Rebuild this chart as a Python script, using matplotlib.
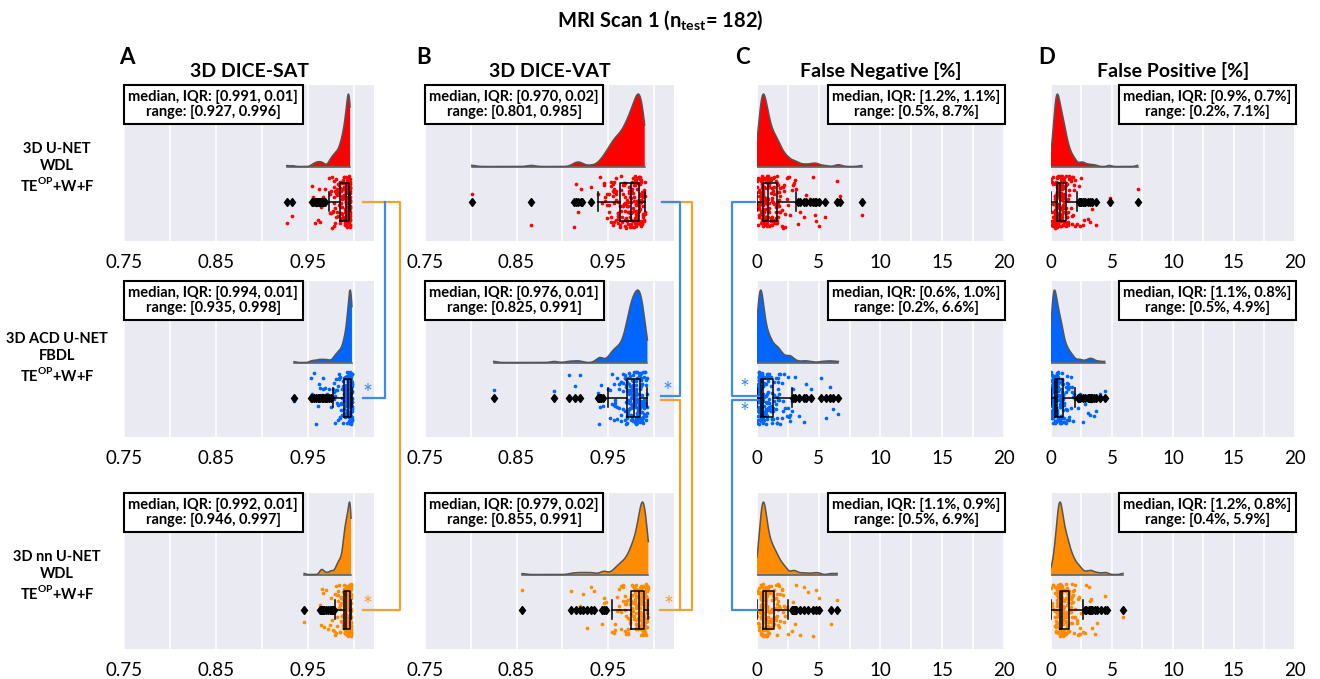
import numpy as np
import matplotlib
matplotlib.use("Agg")
import matplotlib.pyplot as plt
from matplotlib.offsetbox import AnchoredText
from matplotlib.lines import Line2D

plt.rcParams['font.family'] = ['Lato', 'DejaVu Sans']
plt.rcParams['mathtext.fontset'] = 'custom'
plt.rcParams['mathtext.rm'] = 'Lato'
plt.rcParams['mathtext.bf'] = 'Lato:bold'

W, H = 1320, 679

MODELS = ["3D U-NET\nWDL\nTE$^{\\mathbf{OP}}$+W+F",
          "3D ACD U-NET\nFBDL\nTE$^{\\mathbf{OP}}$+W+F",
          "3D nn U-NET\nWDL\nTE$^{\\mathbf{OP}}$+W+F"]
METRICS = ["3D DICE-SAT", "3D DICE-VAT", "False Negative [%]", "False Positive [%]"]
LETTERS = ["A", "B", "C", "D"]
COLORS = ["#ff0000", "#0066ff", "#ff8c00"]

SAT_UNET_VALS = [0.927, 0.933, 0.955, 0.956, 0.958, 0.959, 0.960, 0.961, 0.962, 0.963, 0.964, 0.965, 0.966,
                 0.967, 0.969, 0.973, 0.974, 0.975, 0.976, 0.977, 0.978, 0.979, 0.980, 0.981, 0.982, 0.983,
                 0.984, 0.985, 0.986, 0.987, 0.988, 0.989, 0.990, 0.991, 0.992, 0.993, 0.994, 0.995, 0.996]
SAT_UNET_CNTS = [1, 1, 1, 1, 1, 1, 1, 1, 1, 1, 1, 1, 1,
                 1, 1, 1, 2, 2, 2, 2, 2, 3, 3, 3, 3, 3,
                 4, 4, 5, 6, 7, 7, 8, 10, 11, 13, 15, 28, 23]

SAT_ACD_VALS = [0.935, 0.953, 0.955, 0.957, 0.959, 0.961, 0.962, 0.963, 0.965, 0.966, 0.967, 0.969, 0.970,
                0.971, 0.973, 0.975, 0.977, 0.978, 0.979, 0.980, 0.981, 0.982, 0.983, 0.984, 0.985, 0.986,
                0.987, 0.988, 0.989, 0.990, 0.991, 0.992, 0.993, 0.994, 0.995, 0.996, 0.997, 0.998]
SAT_ACD_CNTS = [1, 1, 1, 1, 1, 1, 1, 1, 1, 1, 1, 1, 1,
                1, 1, 1, 1, 1, 2, 2, 2, 2, 3, 3, 3, 3,
                3, 4, 6, 6, 7, 8, 9, 11, 20, 22, 26, 22]

SAT_NN_VALS = [0.946, 0.963, 0.964, 0.965, 0.966, 0.967, 0.968, 0.970, 0.972, 0.974, 0.975, 0.976, 0.977,
               0.978, 0.980, 0.981, 0.982, 0.983, 0.984, 0.985, 0.986, 0.987, 0.988, 0.989, 0.990, 0.991,
               0.992, 0.993, 0.994, 0.995, 0.996, 0.997]
SAT_NN_CNTS = [1, 1, 1, 2, 1, 1, 1, 1, 1, 1, 1, 1, 1,
               1, 2, 2, 3, 3, 3, 4, 4, 4, 5, 10, 11, 12,
               14, 13, 14, 16, 26, 21]

VAT_UNET_VALS = [0.801, 0.866, 0.913, 0.915, 0.917, 0.920, 0.921, 0.931, 0.939, 0.941, 0.943, 0.945, 0.947,
                 0.949, 0.951, 0.953, 0.955, 0.957, 0.959, 0.961, 0.963, 0.964, 0.965, 0.966, 0.967, 0.968,
                 0.969, 0.970, 0.971, 0.972, 0.973, 0.974, 0.975, 0.976, 0.977, 0.978, 0.979, 0.980, 0.981,
                 0.982, 0.983, 0.984, 0.985, 0.986, 0.987, 0.988, 0.989, 0.990]
VAT_UNET_CNTS = [1, 1, 1, 1, 1, 1, 1, 1, 1, 1, 1, 2, 2,
                 3, 3, 4, 4, 5, 5, 6, 3, 3, 3, 3, 3, 3,
                 4, 4, 4, 4, 4, 4, 5, 4, 5, 6, 6, 6, 6,
                 5, 5, 8, 8, 8, 7, 7, 5, 4]

VAT_ACD_VALS = [0.825, 0.891, 0.907, 0.914, 0.919, 0.939, 0.940, 0.941, 0.942, 0.944, 0.950, 0.952, 0.954,
                0.956, 0.958, 0.960, 0.962, 0.964, 0.966, 0.968, 0.970, 0.971, 0.972, 0.973, 0.974, 0.975,
                0.976, 0.977, 0.978, 0.979, 0.980, 0.981, 0.982, 0.983, 0.984, 0.985, 0.986, 0.987, 0.988,
                0.989, 0.990, 0.991, 0.992, 0.993]
VAT_ACD_CNTS = [1, 1, 1, 1, 1, 1, 1, 1, 1, 1, 1, 2, 2,
                3, 3, 3, 3, 4, 4, 5, 5, 5, 5, 5, 6, 6,
                6, 7, 7, 7, 7, 7, 7, 7, 8, 9, 8, 7, 6,
                5, 4, 4, 2, 2]

VAT_NN_VALS = [0.856, 0.910, 0.915, 0.919, 0.923, 0.927, 0.931, 0.935, 0.943, 0.945, 0.946, 0.948, 0.954,
               0.956, 0.958, 0.960, 0.962, 0.964, 0.966, 0.968, 0.970, 0.972, 0.974, 0.975, 0.976, 0.977,
               0.978, 0.979, 0.980, 0.981, 0.982, 0.983, 0.984, 0.985, 0.986, 0.987, 0.988, 0.989, 0.990,
               0.991, 0.992, 0.993, 0.994]
VAT_NN_CNTS = [1, 1, 1, 1, 1, 1, 1, 1, 1, 1, 1, 1, 1,
               1, 2, 2, 3, 3, 3, 4, 4, 5, 5, 3, 4, 4,
               4, 5, 5, 5, 5, 6, 6, 10, 10, 11, 12, 12, 11,
               9, 7, 5, 3]

FN_UNET_VALS = [0.0, 0.1, 0.2, 0.3, 0.4, 0.5, 0.6, 0.7, 0.8, 0.9, 1.0, 1.1, 1.2, 1.3, 1.4, 1.5, 1.6,
                1.7, 1.8, 1.9, 2.0, 2.1, 2.2, 2.3, 2.4, 2.5, 2.6, 2.7, 2.8, 2.9, 3.0, 3.1, 3.2,
                3.3, 3.5, 3.8, 4.0, 4.3, 4.5, 4.7, 4.8, 5.0, 5.5, 6.5, 6.7, 8.5]
FN_UNET_CNTS = [2, 4, 8, 13, 18, 14, 12, 11, 10, 8, 7, 7, 6, 5, 5, 5, 5,
                5, 4, 3, 3, 2, 2, 2, 2, 2, 1, 1, 1, 1, 1, 1, 1,
                1, 1, 1, 1, 1, 1, 1, 1, 1, 1, 1, 1, 1]

FN_ACD_VALS = [0.0, 0.1, 0.2, 0.3, 0.4, 0.5, 0.6, 0.7, 0.8, 0.9, 1.0, 1.1, 1.2, 1.3, 1.4, 1.5,
               1.6, 1.7, 1.8, 1.9, 2.0, 2.1, 2.2, 2.3, 2.4, 2.5, 2.6, 2.7, 2.8, 2.9,
               3.1, 3.4, 3.8, 4.0, 4.4, 5.2, 5.6, 5.9, 6.2, 6.6]
FN_ACD_CNTS = [4, 12, 29, 22, 15, 10, 8, 7, 6, 6, 6, 5, 5, 3, 3, 3,
               4, 4, 3, 2, 2, 2, 1, 1, 1, 2, 1, 2, 2, 1,
               1, 1, 1, 1, 1, 1, 1, 1, 1, 1]

FN_NN_VALS = [0.0, 0.1, 0.2, 0.3, 0.4, 0.5, 0.6, 0.7, 0.8, 0.9, 1.0, 1.1, 1.2, 1.3,
              1.4, 1.5, 1.6, 1.7, 1.8, 1.9, 2.0, 2.1, 2.2, 2.3, 2.4, 2.5,
              2.8, 2.9, 3.0, 3.1, 3.2, 3.5, 3.8, 4.1, 4.5, 4.8, 5.0, 6.0, 6.5]
FN_NN_CNTS = [2, 3, 6, 14, 20, 16, 16, 15, 9, 8, 7, 7, 6, 6,
              5, 5, 4, 4, 3, 3, 2, 2, 2, 2, 1, 1,
              1, 1, 1, 1, 1, 1, 1, 1, 1, 1, 1, 1, 1]

FP_UNET_VALS = [0.0, 0.1, 0.2, 0.3, 0.4, 0.5, 0.6, 0.7, 0.8, 0.9, 1.0, 1.1,
                1.2, 1.3, 1.4, 1.5, 1.6, 1.7, 1.8, 1.9, 2.0, 2.1,
                2.3, 2.4, 2.5, 2.6, 2.7, 2.8, 3.0, 3.2, 3.4, 3.7, 4.8, 7.1]
FP_UNET_CNTS = [2, 4, 8, 13, 18, 17, 16, 14, 12, 11, 10, 10,
                7, 6, 5, 4, 3, 3, 2, 2, 2, 1,
                1, 1, 1, 1, 1, 1, 1, 1, 1, 1, 1, 1]

FP_ACD_VALS = [0.0, 0.1, 0.2, 0.3, 0.4, 0.5, 0.6, 0.7, 0.8, 0.9,
               1.0, 1.1, 1.2, 1.3, 1.4, 1.5, 1.6, 1.7, 1.8, 1.9, 2.0,
               2.2, 2.3, 2.4, 2.6, 2.8, 3.0, 3.1, 3.2, 3.3, 3.4, 3.5, 3.7, 4.0, 4.4]
FP_ACD_CNTS = [8, 15, 22, 18, 16, 13, 12, 11, 10, 10,
               6, 5, 4, 4, 3, 3, 2, 2, 2, 1, 1,
               1, 1, 1, 1, 1, 1, 1, 1, 1, 1, 1, 1, 1, 1]

FP_NN_VALS = [0.0, 0.1, 0.2, 0.3, 0.4, 0.5, 0.6, 0.7, 0.8, 0.9, 1.0, 1.1, 1.2, 1.3, 1.4,
              1.5, 1.6, 1.7, 1.8, 1.9, 2.0, 2.1, 2.2, 2.3, 2.4, 2.5, 2.6,
              2.8, 2.9, 3.1, 3.2, 3.3, 3.4, 3.6, 3.8, 4.1, 4.4, 4.6, 5.9]
FP_NN_CNTS = [1, 2, 3, 5, 7, 11, 16, 17, 16, 14, 10, 9, 9, 8, 7,
              6, 5, 4, 4, 3, 3, 2, 2, 2, 2, 1, 1,
              1, 1, 1, 1, 1, 1, 1, 1, 1, 1, 1, 1]

SAT_TEXT = ["median, IQR: [0.991, 0.01]\nrange: [0.927, 0.996]",
            "median, IQR: [0.994, 0.01]\nrange: [0.935, 0.998]",
            "median, IQR: [0.992, 0.01]\nrange: [0.946, 0.997]"]
VAT_TEXT = ["median, IQR: [0.970, 0.02]\nrange: [0.801, 0.985]",
            "median, IQR: [0.976, 0.01]\nrange: [0.825, 0.991]",
            "median, IQR: [0.979, 0.02]\nrange: [0.855, 0.991]"]
FN_TEXT = ["median, IQR: [1.2%, 1.1%]\nrange: [0.5%, 8.7%]",
           "median, IQR: [0.6%, 1.0%]\nrange: [0.2%, 6.6%]",
           "median, IQR: [1.1%, 0.9%]\nrange: [0.5%, 6.9%]"]
FP_TEXT = ["median, IQR: [0.9%, 0.7%]\nrange: [0.2%, 7.1%]",
           "median, IQR: [1.1%, 0.8%]\nrange: [0.5%, 4.9%]",
           "median, IQR: [1.2%, 0.8%]\nrange: [0.4%, 5.9%]"]

DICE_TICKS = [0.75, 0.80, 0.85, 0.90, 0.95, 1.00]
DICE_LABELS = ["0.75", "", "0.85", "", "0.95", ""]
PCT_TICKS = [0, 2.5, 5, 7.5, 10, 12.5, 15, 17.5, 20]
PCT_LABELS = ["0", "", "5", "", "10", "", "15", "", "20"]

COLUMNS = [
    [(SAT_UNET_VALS, SAT_UNET_CNTS), (SAT_ACD_VALS, SAT_ACD_CNTS), (SAT_NN_VALS, SAT_NN_CNTS)],
    [(VAT_UNET_VALS, VAT_UNET_CNTS), (VAT_ACD_VALS, VAT_ACD_CNTS), (VAT_NN_VALS, VAT_NN_CNTS)],
    [(FN_UNET_VALS, FN_UNET_CNTS), (FN_ACD_VALS, FN_ACD_CNTS), (FN_NN_VALS, FN_NN_CNTS)],
    [(FP_UNET_VALS, FP_UNET_CNTS), (FP_ACD_VALS, FP_ACD_CNTS), (FP_NN_VALS, FP_NN_CNTS)],
]
TEXTS = [SAT_TEXT, VAT_TEXT, FN_TEXT, FP_TEXT]

# layout in pixels
COL_LEFT = [124, 425, 757, 1051]
COL_W = [250, 249, 248, 245]
ROW_TOP = [85, 281, 493]
ROW_H = 156
LABEL_Y = [168, 358, 576]
LETTER_X = [127, 424, 742, 1047]

KDE_BASE, KDE_H, JIT, BOX_W = 0.35, 0.72, 0.26, 0.38
BG = "#eaeaf2"
LINE_BLUE, LINE_ORANGE = "#3d8bf0", "#f5a030"

rng = np.random.default_rng(3)


def raincloud(ax, data, color):
    lo, hi = data.min(), data.max()
    grid = np.linspace(lo, hi, 500)
    sigma = 0.2 * data.std(ddof=1)
    dens = np.exp(-0.5 * ((grid[:, None] - data[None, :]) / sigma) ** 2).sum(axis=1)
    dens = dens / dens.max() * KDE_H
    ax.fill_between(grid, KDE_BASE, KDE_BASE + dens, facecolor=color, edgecolor="none", zorder=2)
    ax.plot(grid, KDE_BASE + dens, color="#555555", lw=1.1, zorder=3)
    ax.plot([lo, hi], [KDE_BASE, KDE_BASE], color="#555555", lw=1.1, zorder=3)

    jit = rng.uniform(-JIT, JIT, data.size)
    ax.scatter(data, jit, s=7, color=color, linewidths=0, zorder=3)
    line = dict(color="black", lw=1.1)
    ax.boxplot(data, orientation="horizontal", positions=[0], widths=BOX_W, manage_ticks=False,
               boxprops=line, whiskerprops=line, capprops=line, medianprops=line,
               flierprops=dict(marker="d", markerfacecolor="black", markeredgecolor="black",
                               markersize=4.5), zorder=4)


fig = plt.figure(figsize=(W / 100, H / 100), dpi=100)
axes = [[None] * 4 for _ in range(3)]

for c in range(4):
    for r in range(3):
        left = COL_LEFT[c] / W
        bottom = 1 - (ROW_TOP[r] + ROW_H) / H
        ax = fig.add_axes([left, bottom, COL_W[c] / W, ROW_H / H])
        axes[r][c] = ax
        ax.set_facecolor(BG)
        for s in ax.spines.values():
            s.set_visible(False)
        vals, cnts = COLUMNS[c][r]
        data = np.repeat(np.array(vals, dtype=float), cnts)
        raincloud(ax, data, COLORS[r])
        if c < 2:
            ax.set_xlim(0.75, 1.022)
            ax.set_xticks(DICE_TICKS, DICE_LABELS)
        else:
            ax.set_xlim(0, 20.1)
            ax.set_xticks(PCT_TICKS, PCT_LABELS)
        ax.set_ylim(-0.39, 1.16)
        ax.set_yticks([])
        ax.grid(axis="x", color="white", lw=1.2, zorder=0)
        ax.set_axisbelow(True)
        ax.tick_params(axis="x", length=0, pad=9, labelsize=13.5)

        at = AnchoredText(TEXTS[c][r], loc="upper left" if c < 2 else "upper right",
                          frameon=True, borderpad=0, pad=0.3,
                          prop=dict(fontsize=10.5, fontweight="bold", multialignment="center",
                                    linespacing=1.15))
        at.patch.set_linewidth(1.5)
        at.patch.set_edgecolor("black")
        at.set_zorder(6)
        ax.add_artist(at)

        if r == 0:
            ax.set_title(METRICS[c], fontsize=14, fontweight="bold", pad=6)

for r in range(3):
    fig.text(57 / W, 1 - LABEL_Y[r] / H, MODELS[r], ha="center", va="center",
             fontsize=10.5, fontweight="bold", linespacing=1.25)

for c in range(4):
    fig.text(LETTER_X[c] / W, 1 - 58 / H, LETTERS[c], ha="center", va="center",
             fontsize=16, fontweight="bold")

fig.text(0.5, 1 - 20 / H, "MRI Scan 1 (n$_{\\mathbf{test}}$= 182)", ha="center", va="center",
         fontsize=14.5, fontweight="bold")


def rain_y(ax):
    # pixel row (from top) of the rain centre line
    return H - ax.transData.transform((ax.get_xlim()[0], 0))[1]


def path(xs, ys, color):
    fig.add_artist(Line2D([x / W for x in xs], [1 - y / H for y in ys], color=color, lw=1.6))


def star(x, y, color):
    fig.text(x / W, 1 - y / H, "*", color=color, fontsize=17, ha="center", va="center")


# significance brackets, column A
R = COL_LEFT[0] + COL_W[0]
y1, y2, y3 = (rain_y(axes[r][0]) for r in range(3))
path([R - 11, R + 26, R + 26, R - 11], [y1, y1, y3, y3], LINE_ORANGE)
path([R + 11, R + 11, R - 11], [y1, y2, y2], LINE_BLUE)
star(R - 6, y2 - 4, LINE_BLUE)
star(R - 6, y3 - 4, LINE_ORANGE)

# column B
R = COL_LEFT[1] + COL_W[1]
y1, y2, y3 = (rain_y(axes[r][1]) for r in range(3))
path([R - 12, R + 18, R + 18, R - 14], [y1, y1, y3, y3], LINE_ORANGE)
path([R - 12, R + 6, R + 6, R - 13], [y1, y1, y2 - 2, y2 - 2], LINE_BLUE)
path([R - 13, R + 6, R + 6], [y2 + 2, y2 + 2, y3], LINE_ORANGE)
star(R - 6, y2 - 6, LINE_BLUE)
star(R - 5, y3 - 4, LINE_ORANGE)

# column C
L = COL_LEFT[2]
y1, y2, y3 = (rain_y(axes[r][2]) for r in range(3))
path([L - 2, L - 25, L - 25, L], [y1, y1, y2 - 2, y2 - 2], LINE_BLUE)
path([L, L - 25, L - 25, L], [y2 + 2, y2 + 2, y3, y3], LINE_BLUE)
star(L - 12, y2 - 9, LINE_BLUE)
star(L - 12, y2 + 15, LINE_BLUE)

fig.savefig("out.png", dpi=100)
